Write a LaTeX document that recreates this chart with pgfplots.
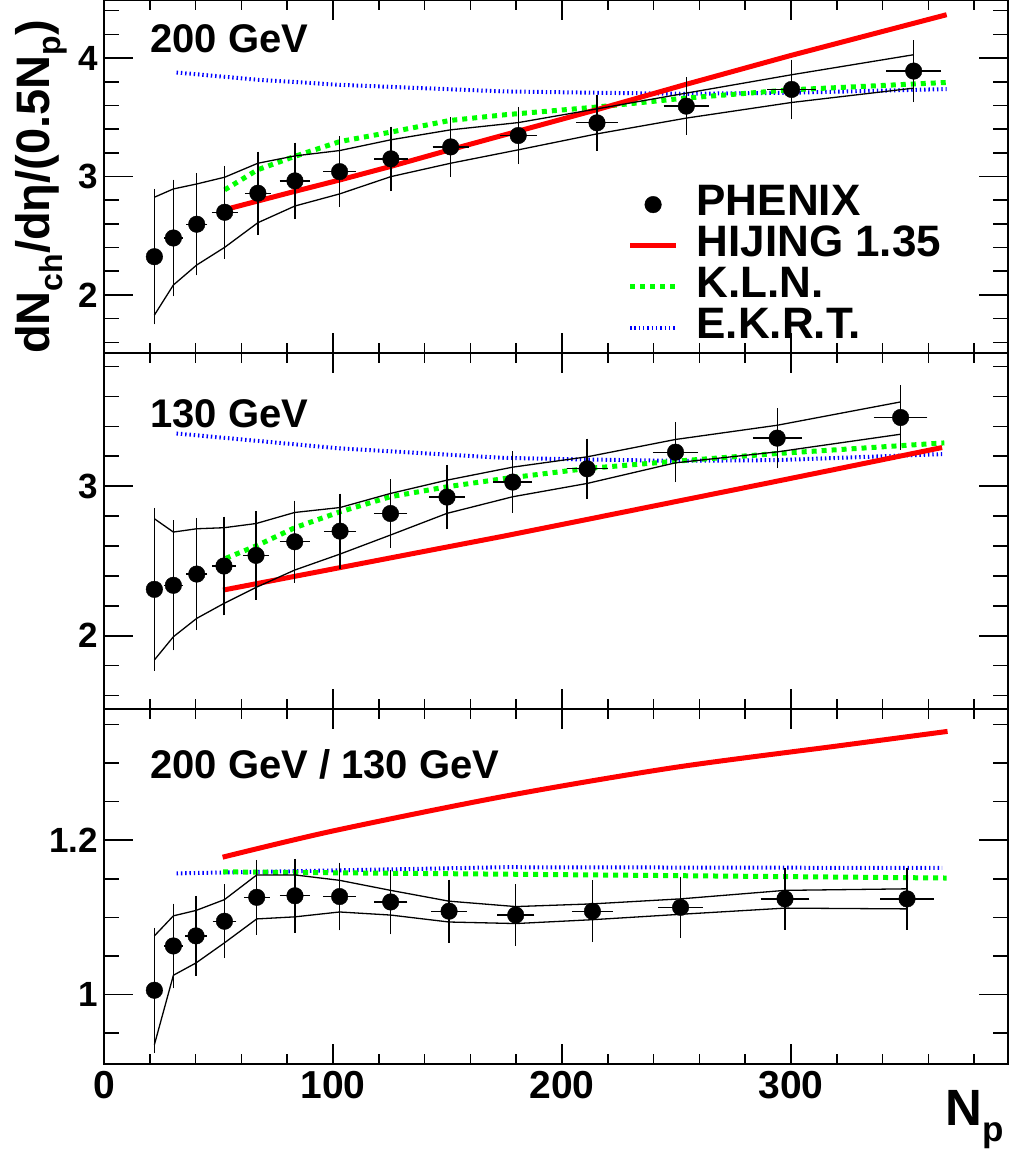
\documentclass[border=0pt]{standalone}
\usepackage{fontspec}
\setmainfont{Liberation Sans}
\usepackage{pgfplots}
\pgfplotsset{compat=1.18}
\definecolor{rootred}{RGB}{255,0,0}
\definecolor{rootgreen}{RGB}{0,255,0}
\definecolor{rootblue}{RGB}{0,0,255}
\pgfplotsset{
  rootaxis/.style={
    scale only axis, width=904pt,
    xmin=0, xmax=394.8,
    xtick={0,100,200,300},
    minor xtick={20,40,60,80,120,140,160,180,220,240,260,280,320,340,360,380},
    tick align=inside,
    axis line style={line width=2.6pt, line cap=rect},
    major tick length=24pt, minor tick length=12pt,
    tick style={line width=1.6pt, black},
    xtick style={/pgfplots/major tick length=20pt, /pgfplots/minor tick length=10pt},
    ytick style={/pgfplots/major tick length=29pt, /pgfplots/minor tick length=15pt},
    /pgf/number format/assume math mode=true,
    yticklabel style={font=\bfseries\fontsize{35}{35}\selectfont, inner sep=0pt, xshift=-6pt},
    xticklabel style={font=\bfseries\fontsize{39}{39}\selectfont, inner sep=0pt, yshift=-7pt},
  },
  nolabels/.style={xticklabels={}, xticklabel style={opacity=0}},
  hij/.style={rootred, line width=5pt},
  kln/.style={rootgreen, line width=5pt, dash pattern=on 5pt off 5pt},
  ekrt/.style={rootblue, line width=4pt, dash pattern=on 1.4pt off 2.9pt},
  band/.style={black, line width=1.3pt},
  phx/.style={only marks, mark=*, mark size=8.3pt, black,
    error bars/x dir=both, error bars/x explicit, error bars/y dir=both, error bars/y explicit,
    error bars/error bar style={line width=1.3pt, black},
    error bars/error mark options={line width=1.3pt, black, mark size=3.8pt}},
  legline/.style={legend image code/.code={\draw[##1] (0pt,0pt) -- (46pt,0pt);}},
  legmark/.style={legend image code/.code={\draw[##1] plot coordinates {(23pt,0pt)};}},
}
\begin{document}
\begin{tikzpicture}
% ---------------- panel 1 : 200 GeV
\begin{axis}[rootaxis, nolabels, at={(104pt,-353pt)}, height=353pt,
  ymin=1.51, ymax=4.49, ytick={2,3,4},
  minor ytick={1.6,1.8,2.2,2.4,2.6,2.8,3.2,3.4,3.6,3.8,4.2,4.4},
  legend style={at={(axis description cs:0.579,0.479)}, anchor=north west,
    draw=none, fill=none, inner sep=0pt, column sep=18pt, row sep=0pt,
    font=\bfseries\fontsize{44}{44}\selectfont,
    nodes={inner sep=0pt, text height=31pt, text depth=10pt}},
  legend cell align=left]
\addlegendimage{black, mark=*, mark size=8.3pt, legmark}
\addlegendentry{PHENIX}
\addlegendimage{hij, legline}
\addlegendentry{HIJING 1.35}
\addlegendimage{kln, legline}
\addlegendentry{K.L.N.}
\addlegendimage{ekrt, legline}
\addlegendentry{E.K.R.T.}
\addplot[forget plot, ekrt] coordinates {(31.7,3.878) (67,3.817) (103,3.774) (175,3.718) (215,3.707) (254,3.698) (300,3.707) (368,3.738)};
\addplot[forget plot, kln] coordinates {(52.7,2.887) (67,3.056) (83,3.168) (103,3.295) (125,3.374) (151,3.473) (175,3.521) (215,3.586) (254,3.662) (300,3.732) (368,3.794)};
\addplot[forget plot, hij] coordinates {(52.7,2.72) (83,2.873) (103,2.971) (125,3.084) (151,3.225) (175,3.352) (215,3.563) (254,3.777) (300,4.022) (368,4.366)};
\addplot[forget plot, band] coordinates {(22.0,2.825) (30.3,2.895) (40.5,2.937) (52.7,2.994) (67.2,3.112) (83.4,3.174) (102.9,3.219) (125.3,3.31) (151.4,3.394) (180.9,3.455) (215.3,3.571) (254.3,3.704) (300.3,3.859) (353.6,4.028)};
\addplot[forget plot, band] coordinates {(22.0,1.83) (30.3,2.084) (40.5,2.253) (52.7,2.402) (67.2,2.61) (83.4,2.751) (102.9,2.853) (125.3,2.999) (151.4,3.112) (180.9,3.225) (215.3,3.36) (254.3,3.493) (300.3,3.625) (353.6,3.746)};
\addplot[forget plot, phx] table[x=x, y=y, x error=ex, y error=ey] {
x y ex ey
22.0 2.323 2 0.54
30.3 2.481 2.5 0.46
40.5 2.597 3 0.40
52.7 2.698 4 0.36
67.2 2.859 4 0.32
83.4 2.963 5 0.29
102.9 3.041 5.5 0.265
125.3 3.149 5.6 0.24
151.4 3.25 6.2 0.22
180.9 3.346 6.4 0.21
215.3 3.453 7.5 0.205
254.3 3.594 8.2 0.21
300.3 3.735 8.9 0.22
353.6 3.89 10.3 0.23
};
\end{axis}
% ---------------- panel 2 : 130 GeV
\begin{axis}[rootaxis, nolabels, at={(104pt,-709pt)}, height=356pt,
  ymin=1.51, ymax=3.89, ytick={2,3},
  minor ytick={1.6,1.8,2.2,2.4,2.6,2.8,3.2,3.4,3.6,3.8}]
\addplot[ekrt] coordinates {(31.7,3.352) (103,3.252) (175,3.189) (211,3.178) (250,3.169) (294,3.174) (366,3.214)};
\addplot[kln] coordinates {(53.2,2.517) (67.3,2.606) (83.3,2.722) (103,2.828) (125,2.929) (150,2.996) (175,3.051) (211,3.118) (250,3.167) (294,3.218) (367,3.289)};
\addplot[hij] coordinates {(52,2.305) (103,2.455) (143,2.573) (175,2.667) (207,2.765) (243,2.876) (291,3.024) (318,3.108) (366,3.258)};
\addplot[band] coordinates {(22.0,2.782) (30.3,2.693) (40.5,2.715) (52.4,2.722) (66.4,2.75) (83.3,2.824) (103.1,2.857) (125.1,2.951) (149.8,3.04) (178.5,3.127) (211,3.196) (249.6,3.312) (294,3.407) (347.9,3.563)};
\addplot[band] coordinates {(22.0,1.838) (30.3,1.993) (40.5,2.116) (52.4,2.216) (66.4,2.323) (83.3,2.439) (103.1,2.546) (125.1,2.673) (149.8,2.818) (178.5,2.929) (211,3.018) (249.6,3.156) (294,3.229) (347.9,3.347)};
\addplot[phx] table[x=x, y=y, x error=ex, y error=ey] {
x y ex ey
22.0 2.31 2 0.52
30.3 2.337 2.5 0.41
40.5 2.412 3 0.35
52.4 2.466 3.5 0.305
66.4 2.537 4 0.27
83.3 2.628 4.9 0.25
103.1 2.699 5.4 0.225
125.1 2.817 5.6 0.205
149.8 2.927 6.1 0.19
178.5 3.027 6.8 0.18
211.0 3.116 7.3 0.177
249.6 3.227 8.2 0.174
294.0 3.321 9.0 0.175
347.9 3.459 10 0.19
};
\end{axis}
% ---------------- panel 3 : ratio
\begin{axis}[rootaxis, at={(104pt,-1064pt)}, height=355pt,
  ymin=0.91, ymax=1.37, ytick={1,1.2},
  minor ytick={0.95,1.05,1.1,1.15,1.25,1.3,1.35}]
\addplot[ekrt] coordinates {(31.7,1.157) (175,1.165) (366,1.164)};
\addplot[kln] coordinates {(52,1.159) (175,1.156) (368,1.151)};
\addplot[hij, smooth] coordinates {(51.8,1.178) (100,1.212) (175,1.257) (248.6,1.294) (320,1.322) (368.4,1.341)};
\addplot[band] coordinates {(22,1.076) (30.3,1.102) (40.2,1.109) (52.6,1.123) (66.7,1.155) (83.4,1.155) (102.9,1.148) (125.2,1.135) (150.7,1.121) (179.8,1.114) (213.3,1.1175) (251.8,1.124) (297.4,1.135) (350.7,1.137)};
\addplot[band] coordinates {(22,0.935) (30.3,1.025) (40.2,1.041) (52.6,1.067) (66.7,1.098) (83.4,1.1007) (102.9,1.107) (125.2,1.103) (150.7,1.094) (179.8,1.092) (213.3,1.097) (251.8,1.104) (297.4,1.112) (350.7,1.111)};
\addplot[phx] table[x=x, y=y, x error=ex, y error=ey] {
x y ex ey
22.0 1.0056 2 0.076
30.3 1.063 2.5 0.05
40.2 1.076 3 0.047
52.6 1.095 3.5 0.043
66.7 1.126 4 0.0435
83.4 1.128 4.9 0.043
102.9 1.127 5.4 0.039
125.2 1.12 5.6 0.037
150.7 1.108 6.1 0.036
179.8 1.103 6.5 0.035
213.3 1.108 7.3 0.035
251.8 1.113 8.1 0.035
297.4 1.124 9 0.035
350.7 1.124 10 0.035
};
\end{axis}
% ---------------- texts
\node[anchor=base west, font=\bfseries\fontsize{40}{40}\selectfont, inner sep=0pt] at (150pt,-52pt) {200 GeV};
\node[anchor=base west, font=\bfseries\fontsize{40}{40}\selectfont, inner sep=0pt] at (150pt,-427pt) {130 GeV};
\node[anchor=base west, font=\bfseries\fontsize{40}{40}\selectfont, inner sep=0pt] at (150pt,-778pt) {200 GeV / 130 GeV};
\node[anchor=base east, inner sep=0pt, font=\bfseries\fontsize{51}{51}\selectfont] at (1004pt,-1125pt)
  {N\raisebox{-16pt}{\fontsize{35}{35}\selectfont p}};
\node[anchor=base east, rotate=90, inner sep=0pt, font=\bfseries\fontsize{47}{47}\selectfont] at (49pt,-20pt)
  {dN\raisebox{-13pt}{\fontsize{32}{32}\selectfont ch}/dη/(0.5N\raisebox{-11pt}{\fontsize{32}{32}\selectfont p})};
\pgfresetboundingbox
\path[use as bounding box] (0pt,0pt) rectangle (1010pt,-1151pt);
\end{tikzpicture}
\end{document}
